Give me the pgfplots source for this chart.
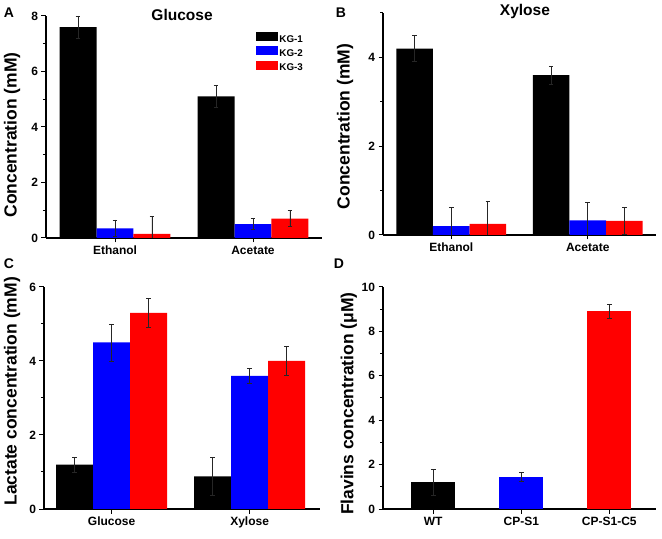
\documentclass[border=0pt]{standalone}
\usepackage{pgfplots}
\pgfplotsset{compat=1.18}
\usepackage{fontspec}
\setmainfont{Liberation Sans}
\newcommand{\fs}[1]{\bfseries\fontsize{#1bp}{#1bp}\selectfont}
\begin{document}
\begin{tikzpicture}
\useasboundingbox (0bp,0bp) rectangle (662bp,539bp);
\pgfplotsset{
  panel/.style={
    scale only axis, height=222bp, ymin=0,
    axis lines*=left,
    axis line style={line width=1.1bp, black},
    tick align=outside, major tick length=4.5bp, minor tick length=3bp,
    every tick/.style={black, line width=1bp},
    /pgf/number format/assume math mode=true,
    tick label style={font=\fs{12}},
    ylabel style={font=\fs{17.5}, anchor=center},
    every axis title/.style={font=\fs{15.5}, anchor=center},
    ybar=0pt, bar width=0.268,
    clip=true,
    legend image code/.code={\fill[##1] (0bp,-1bp) rectangle (22bp,8bp);},
    error bars/y dir=both, error bars/y explicit,
    error bars/error bar style={line width=0.8bp, black!85},
    error bars/error mark options={rotate=90, mark size=2.3bp, line width=0.8bp, black!85},
  },
}
% Panel letters
\node[font=\fs{14}, anchor=center] at (9bp,526bp) {A};
\node[font=\fs{14}, anchor=center] at (341bp,526bp) {B};
\node[font=\fs{14}, anchor=center] at (9bp,275bp) {C};
\node[font=\fs{14}, anchor=center] at (339bp,275bp) {D};

% Panel A
\begin{axis}[panel, at={(46bp,301bp)}, anchor=south west, width=276bp,
  xmin=-0.5, xmax=1.5, ymax=8, xtick={0,1}, xticklabels={Ethanol,Acetate},
  ytick={0,2,4,6,8}, minor ytick={1,3,5,7},
  ylabel={Concentration (mM)},
  ylabel style={at={(axis description cs:-0.123,0.464)}},
  title={Glucose}, title style={at={(axis description cs:0.493,1.005)}},
  legend style={at={(axis description cs:0.76,0.928)}, anchor=north west, draw=none, fill=none,
    inner sep=0pt, font=\fs{9.8},
    nodes={inner sep=1.5bp, text height=7bp, text depth=2.5bp}},
  legend cell align=left]
\addplot[fill=black, draw=none] coordinates {(0,7.6) +- (0,0.4) (1,5.1) +- (0,0.4)};
\addplot[fill=blue, draw=none] coordinates {(0,0.35) +- (0,0.3) (1,0.5) +- (0,0.2)};
\addplot[fill=red, draw=none] coordinates {(0,0.15) +- (0,0.62) (1,0.7) +- (0,0.3)};
\legend{KG-1,KG-2,KG-3}
\end{axis}

% Panel B
\begin{axis}[panel, at={(383bp,304bp)}, anchor=south west, width=273bp,
  xmin=-0.5, xmax=1.5, ymax=5, xtick={0,1}, xticklabels={Ethanol,Acetate},
  ytick={0,2,4}, minor ytick={1,3,5},
  ylabel={Concentration (mM)},
  ylabel style={at={(axis description cs:-0.139,0.489)}},
  title={Xylose}, title style={at={(axis description cs:0.52,1.005)}}]
\addplot[fill=black, draw=none] coordinates {(0,4.2) +- (0,0.3) (1,3.6) +- (0,0.2)};
\addplot[fill=blue, draw=none] coordinates {(0,0.2) +- (0,0.42) (1,0.33) +- (0,0.4)};
\addplot[fill=red, draw=none] coordinates {(0,0.25) +- (0,0.5) (1,0.32) +- (0,0.3)};
\end{axis}

% Panel C
\begin{axis}[panel, at={(44bp,30bp)}, anchor=south west, width=276bp,
  xmin=-0.49, xmax=1.51, ymax=6, xtick={0,1}, xticklabels={Glucose,Xylose},
  ytick={0,2,4,6}, minor ytick={1,3,5},
  ylabel={Lactate concentration (mM)},
  ylabel style={at={(axis description cs:-0.116,0.53)}}]
\addplot[fill=black, draw=none] coordinates {(0,1.2) +- (0,0.2) (1,0.88) +- (0,0.52)};
\addplot[fill=blue, draw=none] coordinates {(0,4.5) +- (0,0.5) (1,3.6) +- (0,0.2)};
\addplot[fill=red, draw=none] coordinates {(0,5.3) +- (0,0.4) (1,4.0) +- (0,0.4)};
\end{axis}

% Panel D
\begin{axis}[panel, at={(383bp,30bp)}, anchor=south west, width=273bp,
  xmin=-0.57, xmax=2.53, ymax=10, xtick={0,1,2}, xticklabels={WT,CP-S1,CP-S1-C5},
  ytick={0,2,4,6,8,10}, minor ytick={1,3,5,7,9}, bar width=0.5,
  ylabel={Flavins concentration (μM)},
  ylabel style={at={(axis description cs:-0.125,0.475)}}]
\addplot[fill=black, draw=none, bar shift=0pt] coordinates {(0,1.2) +- (0,0.6)};
\addplot[fill=blue, draw=none, bar shift=0pt] coordinates {(1,1.45) +- (0,0.2)};
\addplot[fill=red, draw=none, bar shift=0pt] coordinates {(2,8.9) +- (0,0.3)};
\end{axis}
\end{tikzpicture}
\end{document}
